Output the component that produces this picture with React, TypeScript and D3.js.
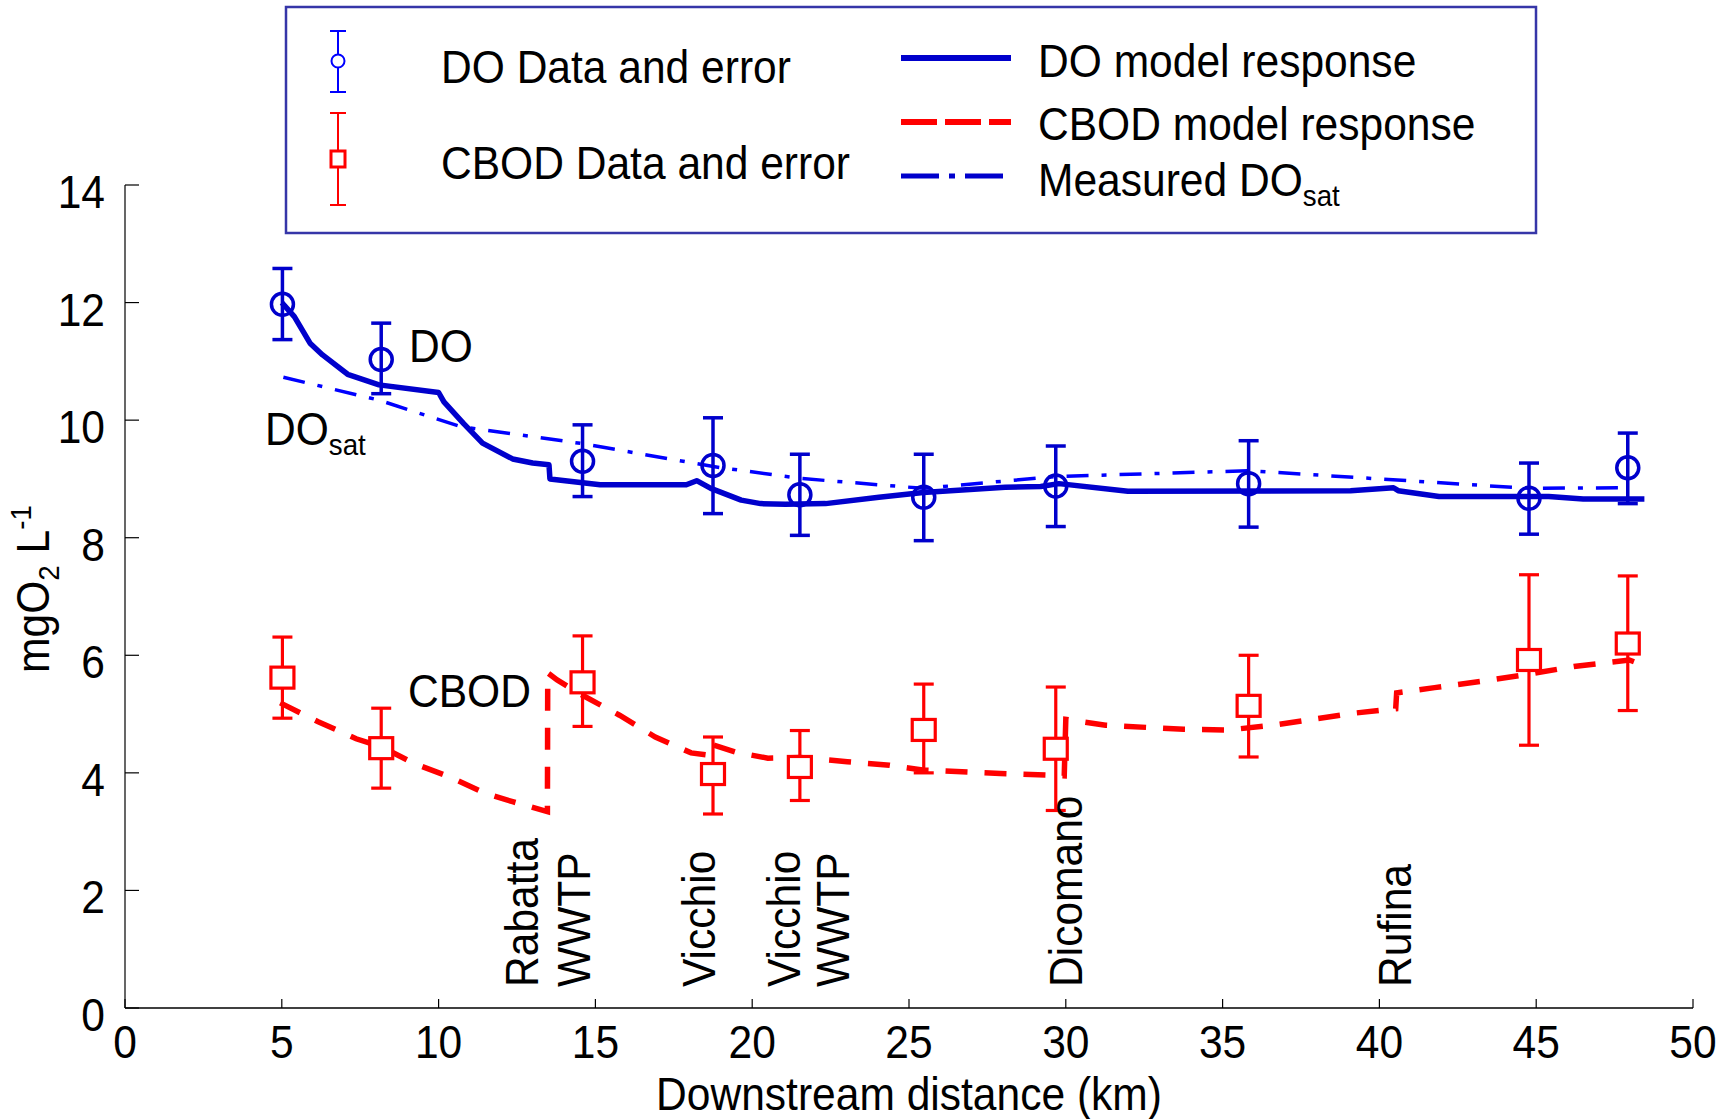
import React from 'react';
import * as d3 from 'd3';

const W = 1723;
const H = 1119;
const FONT = "'Liberation Sans', Arial, Helvetica, sans-serif";
const FS = 46;
const SX = 0.925;

const xTicks = [0, 5, 10, 15, 20, 25, 30, 35, 40, 45, 50];
const yTicks = [0, 2, 4, 6, 8, 10, 12, 14];

// sampling sites (km)
const siteKm = [5.02, 8.17, 14.59, 18.75, 21.52, 25.47, 29.68, 35.83, 44.77, 47.92];
// DO observations and error bounds
const doObs = [11.97, 11.03, 9.3, 9.23, 8.73, 8.69, 8.88, 8.92, 8.67, 9.19];
const doHi = [12.58, 11.65, 9.92, 10.04, 9.42, 9.42, 9.56, 9.65, 9.27, 9.78];
const doLo = [11.37, 10.45, 8.7, 8.41, 8.04, 7.95, 8.19, 8.18, 8.06, 8.58];
// CBOD observations and error bounds
const cbodObs = [5.62, 4.42, 5.54, 3.98, 4.1, 4.73, 4.41, 5.14, 5.92, 6.2];
const cbodHi = [6.31, 5.1, 6.33, 4.61, 4.72, 5.51, 5.46, 6.0, 7.37, 7.35];
const cbodLo = [4.93, 3.74, 4.79, 3.3, 3.53, 4.0, 3.36, 4.27, 4.47, 5.06];

// DO model response
const doModelKm = [5.0, 5.4, 5.9, 6.3, 7.1, 8.1, 10.0, 10.17, 10.8, 11.4, 12.36, 13.0, 13.52, 13.55, 15.15, 17.9, 18.23, 18.68, 19.65, 20.27, 21.06, 22.34, 24.04, 25.45, 28.07, 29.2, 29.78, 31.98, 39.08, 40.45, 40.6, 41.9, 45.4, 46.5, 48.45];
const doModelVal = [12.0, 11.76, 11.31, 11.11, 10.78, 10.6, 10.47, 10.31, 9.94, 9.61, 9.34, 9.27, 9.24, 9.0, 8.9, 8.9, 8.97, 8.84, 8.64, 8.58, 8.57, 8.58, 8.69, 8.77, 8.86, 8.87, 8.92, 8.79, 8.8, 8.85, 8.8, 8.7, 8.7, 8.66, 8.66];

// Measured DO saturation
const doSatKm = [5.05, 8.1, 10.7, 14.59, 18.76, 21.5, 25.45, 29.66, 35.83, 44.77, 47.85];
const doSatVal = [10.73, 10.34, 9.89, 9.6, 9.21, 9.01, 8.84, 9.04, 9.14, 8.84, 8.85];

// CBOD model response
const cbodModelKm = [4.95, 6.16, 7.37, 8.19, 9.22, 10.36, 11.5, 12.36, 13.47, 13.48, 13.78, 14.59, 15.77, 16.91, 18.05, 18.65, 18.72, 19.5, 20.5, 21.54, 23.03, 24.38, 25.43, 27.91, 29.6, 29.95, 30.0, 31.27, 33.76, 35.19, 36.61, 39.1, 40.52, 40.55, 41.76, 43.54, 44.78, 46.2, 47.97, 48.42];
const cbodModelVal = [5.19, 4.87, 4.58, 4.44, 4.16, 3.93, 3.65, 3.51, 3.34, 5.7, 5.58, 5.32, 4.98, 4.61, 4.34, 4.3, 4.48, 4.35, 4.25, 4.26, 4.19, 4.13, 4.05, 3.99, 3.96, 3.95, 4.91, 4.81, 4.74, 4.73, 4.81, 5.01, 5.09, 5.36, 5.45, 5.58, 5.68, 5.81, 5.92, 5.83];

// river location labels (km position of label baseline)
const placeNames = ['Rabatta', 'WWTP', 'Vicchio', 'Vicchio', 'WWTP', 'Dicomano', 'Rufina'];
const placeKm = [13.17, 14.83, 18.81, 21.52, 23.09, 30.52, 41.01];

const DOBLUE = '#0000cc';
const SATBLUE = '#0000ff';
const RED = '#ff0000';

function T({ x, y, rot = 0, anchor = 'start', size = FS, children }: any) {
  return (
    <text
      transform={`translate(${x},${y}) rotate(${rot}) scale(${SX},1)`}
      textAnchor={anchor}
      fontSize={size}
      fontFamily={FONT}
      fill="#000"
    >
      {children}
    </text>
  );
}

export default function App() {
  const x = d3.scaleLinear().domain([0, 50]).range([125, 1693]);
  const y = d3.scaleLinear().domain([0, 14]).range([1008, 185]);

  const line = d3
    .line<[number, number]>()
    .x((d) => x(d[0]))
    .y((d) => y(d[1]));

  const doModel = line(doModelKm.map((k, i) => [k, doModelVal[i]]) as any) || '';
  const doSat = line(doSatKm.map((k, i) => [k, doSatVal[i]]) as any) || '';
  const cbodModel = line(cbodModelKm.map((k, i) => [k, cbodModelVal[i]]) as any) || '';

  const cap = 10;

  return (
    <svg
      width={W}
      height={H}
      style={{ position: 'absolute', left: 0, top: 0, display: 'block', background: '#fff' }}
    >
      <rect x={0} y={0} width={W} height={H} fill="#fff" />

      {/* axes */}
      <line x1={125} y1={y(14)} x2={125} y2={1008} stroke="#000" strokeWidth={1.2} />
      <line x1={125} y1={1008} x2={1693} y2={1008} stroke="#000" strokeWidth={1.6} />
      {yTicks.map((t) => (
        <g key={'yt' + t}>
          <line x1={125} x2={139} y1={y(t)} y2={y(t)} stroke="#000" strokeWidth={1.2} />
          <T x={105} y={y(t) + 23} anchor="end">{t}</T>
        </g>
      ))}
      {xTicks.map((t) => (
        <g key={'xt' + t}>
          <line x1={x(t)} x2={x(t)} y1={1008} y2={999} stroke="#000" strokeWidth={1.2} />
          <T x={x(t)} y={1058} anchor="middle">{t}</T>
        </g>
      ))}

      {/* axis titles */}
      <T x={909} y={1110} anchor="middle">Downstream distance (km)</T>
      <text
        transform={`translate(49,589) rotate(-90) scale(${SX},1)`}
        textAnchor="middle"
        fontSize={FS}
        fontFamily={FONT}
      >
        mgO
        <tspan fontSize={30} dy={10}>2</tspan>
        <tspan dy={-10}> L</tspan>
        <tspan fontSize={30} dy={-18}>-1</tspan>
      </text>

      {/* model lines */}
      <path d={doSat} fill="none" stroke={SATBLUE} strokeWidth={3.5} strokeDasharray="22 13 5 13" />
      <path d={doModel} fill="none" stroke={DOBLUE} strokeWidth={5.5} strokeLinejoin="round" />
      <path d={cbodModel} fill="none" stroke={RED} strokeWidth={5.5} strokeDasharray="22 17" />

      {/* DO data */}
      {siteKm.map((k, i) => (
        <g key={'do' + i} stroke={DOBLUE} strokeWidth={3.5} fill="none">
          <line x1={x(k)} x2={x(k)} y1={y(doHi[i])} y2={y(doLo[i])} />
          <line x1={x(k) - cap} x2={x(k) + cap} y1={y(doHi[i])} y2={y(doHi[i])} />
          <line x1={x(k) - cap} x2={x(k) + cap} y1={y(doLo[i])} y2={y(doLo[i])} />
          <circle cx={x(k)} cy={y(doObs[i])} r={11} />
        </g>
      ))}

      {/* CBOD data */}
      {siteKm.map((k, i) => (
        <g key={'cb' + i} stroke={RED} strokeWidth={3.2} fill="none">
          <line x1={x(k)} x2={x(k)} y1={y(cbodHi[i])} y2={y(cbodLo[i])} />
          <line x1={x(k) - cap} x2={x(k) + cap} y1={y(cbodHi[i])} y2={y(cbodHi[i])} />
          <line x1={x(k) - cap} x2={x(k) + cap} y1={y(cbodLo[i])} y2={y(cbodLo[i])} />
          <rect x={x(k) - 11.5} y={y(cbodObs[i]) - 10.5} width={23} height={21} fill="#fff" />
        </g>
      ))}

      {/* annotations */}
      <T x={409} y={362}>DO</T>
      <T x={408} y={707}>CBOD</T>
      <text transform={`translate(265,445) scale(${SX},1)`} fontSize={FS} fontFamily={FONT}>
        DO<tspan fontSize={30} dy={10}>sat</tspan>
      </text>

      {placeNames.map((n, i) => (
        <T key={'pl' + i} x={x(placeKm[i])} y={987} rot={-90}>{n}</T>
      ))}

      {/* legend */}
      <rect x={286} y={7} width={1250} height={226} fill="#fff" stroke="#3636a8" strokeWidth={2.5} />
      <g stroke={SATBLUE} strokeWidth={2} fill="none">
        <line x1={338} x2={338} y1={31} y2={92} />
        <line x1={330} x2={346} y1={31} y2={31} />
        <line x1={330} x2={346} y1={92} y2={92} />
        <circle cx={338} cy={61} r={6.5} fill="#fff" />
      </g>
      <g stroke={RED} strokeWidth={2} fill="none">
        <line x1={338} x2={338} y1={113} y2={205} />
        <line x1={330} x2={346} y1={113} y2={113} />
        <line x1={330} x2={346} y1={205} y2={205} />
        <rect x={331} y={151} width={14} height={16} fill="#fff" strokeWidth={3} />
      </g>
      <T x={441} y={83}>DO Data and error</T>
      <T x={441} y={179}>CBOD Data and error</T>
      <line x1={901} x2={1011} y1={58} y2={58} stroke={DOBLUE} strokeWidth={6} />
      <line x1={901} x2={1011} y1={122} y2={122} stroke={RED} strokeWidth={6} strokeDasharray="36 8" />
      <line x1={901} x2={1011} y1={176} y2={176} stroke={DOBLUE} strokeWidth={5} strokeDasharray="38 10 6 10" />
      <T x={1038} y={77}>DO model response</T>
      <T x={1038} y={140}>CBOD model response</T>
      <text transform={`translate(1038,196) scale(${SX},1)`} fontSize={FS} fontFamily={FONT}>
        Measured DO<tspan fontSize={30} dy={10}>sat</tspan>
      </text>
    </svg>
  );
}
